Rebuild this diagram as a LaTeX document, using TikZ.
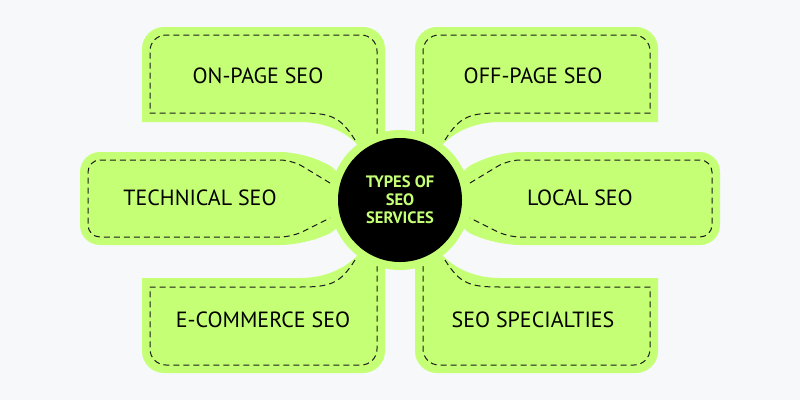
\documentclass[tikz,border=0pt]{standalone}
\usepackage{fontspec}
\setmainfont{PT Sans}
\definecolor{bg}{HTML}{F7F8FA}
\definecolor{lime}{HTML}{C5FF75}
\definecolor{ink}{HTML}{1A1A1A}
\begin{document}
\begin{tikzpicture}[x=1pt,y=-1pt,
  petal/.style={fill=lime},
  dashline/.style={draw=ink,line width=1pt,dash pattern=on 6pt off 4pt},
  lbl/.style={font=\fontsize{22}{24}\selectfont, text=black}]
\fill[bg] (0,0) rectangle (800,400);
\useasboundingbox (0,0) rectangle (800,400);
\newcommand\cornerpetal{%
  \fill[petal] (142,122) [rounded corners=22pt] -- (142,27) -- (385,27) -- (385,90) [sharp corners] -- (385,150) -- (362,150) .. controls (355,140) and (335,122) .. (300,122) -- cycle;
  \draw[dashline] (355,140) .. controls (340,116) and (330,113) .. (300,113) -- (150,113) [rounded corners=16pt] -- (150,35) -- (377,35) -- (377,80) [sharp corners] -- (377,135);
}
\newcommand\sidepetal{%
  \fill[petal,rounded corners=20pt] (345,172) -- (300,152) -- (80,152) -- (80,245) -- (300,245) -- (345,228) -- cycle;
  \draw[dashline,rounded corners=12pt] (330,183) -- (292,160) -- (88,160) -- (88,237) -- (292,237) -- (330,218);
}
\cornerpetal
\begin{scope}[xshift=800pt,xscale=-1]\cornerpetal\end{scope}
\begin{scope}[yshift=-400pt,yscale=-1]\cornerpetal\end{scope}
\begin{scope}[xshift=800pt,xscale=-1,yshift=-400pt,yscale=-1]\cornerpetal\end{scope}
\sidepetal
\begin{scope}[xshift=800pt,xscale=-1]\sidepetal\end{scope}
\fill[lime] (400,200) circle (70);
\node[circle,fill=black,minimum size=124pt,inner sep=0pt,align=center,text=lime,
  font=\fontsize{16.5}{18}\selectfont\bfseries] (hub) at (400,200) {TYPES OF\\SEO\\SERVICES};
\node[lbl] (onpage) at (258,76) {ON-PAGE SEO};
\node[lbl] (offpage) at (533,76) {OFF-PAGE SEO};
\node[lbl] (tech) at (200,198) {TECHNICAL SEO};
\node[lbl] (local) at (580,198) {LOCAL SEO};
\node[lbl] (ecom) at (263,320) {E-COMMERCE SEO};
\node[lbl] (spec) at (533,320) {SEO SPECIALTIES};
\end{tikzpicture}
\end{document}
